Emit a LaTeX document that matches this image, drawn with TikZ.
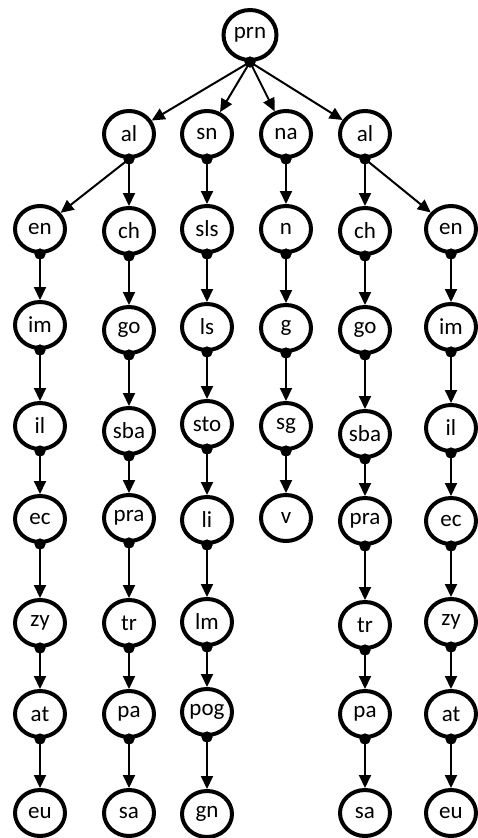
\documentclass[tikz,border=0pt]{standalone}
\usepackage{fontspec}
\setmainfont{Carlito}
\usetikzlibrary{shapes.geometric,arrows.meta}
\tikzset{
  tn/.style={ellipse, draw, line width=4pt, minimum width=50pt, minimum height=46pt, inner sep=0pt, font=\fontsize{23}{23}\selectfont},
  jd/.style={circle, fill=black, inner sep=0pt, minimum size=11pt},
  arr/.style={-{Triangle[width=12pt,length=13pt]}, line width=2pt},
}
\newcommand{\chainnodes}[3]{% prefix, x, list of name/y/label
  \foreach \n/\yy/\t in {#3} {\node[tn] (#1\n) at (#2,\yy) {\t};}
}
\begin{document}
\begin{tikzpicture}[x=1pt,y=-1pt]
\useasboundingbox (0,0) rectangle (477,838);
\node[tn, minimum width=53pt, minimum height=50pt] (r) at (250,35) {prn};
\node[tn] (a0) at (129,134) {al};
\node[tn] (b0) at (207,134) {sn};
\node[tn] (c0) at (286,134) {na};
\node[tn] (d0) at (365,134) {al};
\chainnodes{e}{40}{1/229/en,2/325/im,3/426/il,4/519/ec,5/623/zy,6/714/at,7/813/eu}
\chainnodes{a}{129}{1/231/ch,2/330/go,3/431/sba,4/518/pra,5/623/tr,6/714/pa,7/813/sa}
\chainnodes{b}{207}{1/229/sls,2/327/ls,3/424/sto,4/520/li,5/622/lm,6/712/pog,7/814/gn}
\chainnodes{c}{286}{1/229/n,2/328/g,3/426/sg,4/518/v}
\chainnodes{d}{365}{1/231/ch,2/330/go,3/434/sba,4/521/pra,5/625/tr,6/714/pa,7/813/sa}
\chainnodes{f}{451}{1/229/en,2/327/im,3/428/il,4/521/ec,5/622/zy,6/714/at,7/813/eu}
% dots
\foreach \m in {r,a0,b0,c0,d0,e1,e2,e3,e4,e5,e6,a1,a2,a3,a4,a5,a6,b1,b2,b3,b4,b5,b6,c1,c2,c3,d1,d2,d3,d4,d5,d6,f1,f2,f3,f4,f5,f6}
  {\node[jd] (j\m) at (\m.south) {};}
% edges
\foreach \t in {a0,b0,c0,d0} {\draw[arr] (jr.center) -- (\t);}
\draw[arr] (ja0.center) -- (e1);
\draw[arr] (ja0.center) -- (a1);
\draw[arr] (jd0.center) -- (d1);
\draw[arr] (jd0.center) -- (f1);
\foreach \p/\q in {e1/e2,e2/e3,e3/e4,e4/e5,e5/e6,e6/e7,
                   a1/a2,a2/a3,a3/a4,a4/a5,a5/a6,a6/a7,
                   b0/b1,b1/b2,b2/b3,b3/b4,b4/b5,b5/b6,b6/b7,
                   c0/c1,c1/c2,c2/c3,c3/c4,
                   d1/d2,d2/d3,d3/d4,d4/d5,d5/d6,d6/d7,
                   f1/f2,f2/f3,f3/f4,f4/f5,f5/f6,f6/f7}
  {\draw[arr] (j\p.center) -- (\q.north);}
% redraw dots on top
\foreach \m in {r,a0,b0,c0,d0,e1,e2,e3,e4,e5,e6,a1,a2,a3,a4,a5,a6,b1,b2,b3,b4,b5,b6,c1,c2,c3,d1,d2,d3,d4,d5,d6,f1,f2,f3,f4,f5,f6}
  {\fill (\m.south) circle (5.5pt);}
\end{tikzpicture}
\end{document}
